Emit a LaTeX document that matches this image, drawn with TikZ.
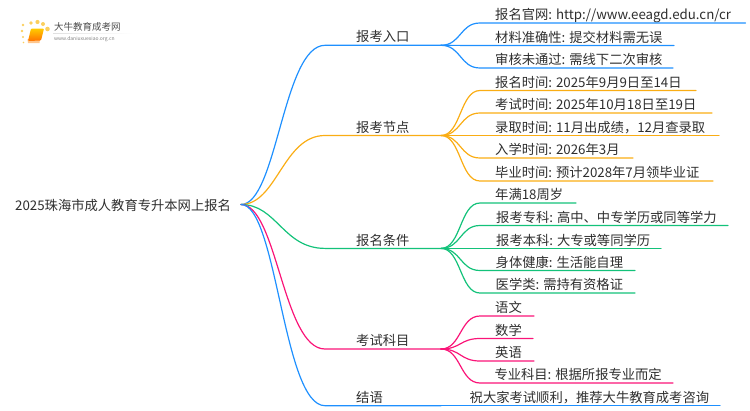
\documentclass[tikz,border=0pt]{standalone}
\usepackage{fontspec}
\setmainfont{Noto Sans CJK SC}
\usetikzlibrary{calc}
\definecolor{mapblue}{HTML}{1E90FF}
\definecolor{maporange}{HTML}{FAAD14}
\definecolor{mapgreen}{HTML}{13C27A}
\definecolor{mappink}{HTML}{FA1478}
\definecolor{logodot}{HTML}{FBCF5E}
\tikzset{
  maptext/.style={anchor=base west, inner sep=0pt, font=\fontsize{13.3}{13.3}\selectfont, text=black!82},
  logotext/.style={anchor=base west, inner sep=0pt},
  branch/.style={line width=1.2pt, line cap=round},
}
\begin{document}
\begin{tikzpicture}[x=1pt, y=-1pt]
  \useasboundingbox (0, 0) rectangle (750, 410);
  \coordinate (root) at (241, 204.5);
  \node[maptext] (title) at (15, 210.6) {2025珠海市成人教育专升本网上报名};
  % logo
  \node[logotext, font=\fontsize{9.5}{9.5}\selectfont, text=black!70] (logoname) at (54, 30.5) {大牛教育成考网};
  \node[logotext, font=\fontsize{5}{5}\selectfont, text=black!50] (logourl) at (54, 40.7) {www.daniuxuexiao.org.cn};
  \shade[left color=black!12, right color=white] (53, 33) rectangle (133, 33.5);
  \fill[orange!45!white] (27.5, 39) -- (40, 39) -- (39.5, 43) -- (28, 43) -- cycle;
  \shade[top color=yellow!60!orange, bottom color=orange!90!red, rounded corners=1pt] (31, 28.5) -- (44, 28.5) -- (41, 40.5) -- (28, 41) -- cycle;
  \foreach \a/\b/\r in {23/25/1.4, 22/31/1.3, 23/37/1.1, 23.5/42.5/0.9, 31/23/1.9, 37.5/22/2.1, 43/24/2, 47.5/29/2.3}{
    \fill[logodot] (\a, \b) circle (\r);
  }
  % first level
  \foreach \name/\txt/\y/\col in {a/报考入口/45.3/mapblue, b/报考节点/135.5/maporange, c/报名条件/248.4/mapgreen, d/考试科目/349/mappink, e/结语/405.7/mapblue}{
    \node[maptext] (\name) at (356, \y - 3.4) {\txt};
    \coordinate (\name-in) at (325, \y);
    \coordinate (\name-out) at (441, \y);
    \draw[branch, \col] (root) .. controls ($(root) + (36, 0)$) and ($(\name-in) + (-42, 0)$) .. (\name-in) -- (\name-out);
  }
  % second level
  \foreach \up/\col/\y/\xtxt/\xend/\txt [count=\i] in {
    a/mapblue/23/495/745.5/{报名官网: http://www.eeagd.edu.cn/cr},
    a/mapblue/45.5/495/674/{材料准确性: 提交材料需无误},
    a/mapblue/68/495/673/{审核未通过: 需线下二次审核},
    b/maporange/90.5/495/696/{报名时间: 2025年9月9日至14日},
    b/maporange/113/495/712/{考试时间: 2025年10月18日至19日},
    b/maporange/135.5/495/719/{录取时间: 11月出成绩，12月查录取},
    b/maporange/158/495/633/{入学时间: 2026年3月},
    b/maporange/181/495/713/{毕业时间: 预计2028年7月领毕业证},
    c/mapgreen/203/495/576/{年满18周岁},
    c/mapgreen/225.5/496/728/{报考专科: 高中、中专学历或同等学力},
    c/mapgreen/248.4/496/661/{报考本科: 大专或等同学历},
    c/mapgreen/270.5/495.5/635/{身体健康: 生活能自理},
    c/mapgreen/293/495.5/635/{医学类: 需持有资格证},
    d/mappink/316/495/534/{语文},
    d/mappink/338.5/495/533/{数学},
    d/mappink/361/495/534/{英语},
    d/mappink/383/494.3/673/{专业科目: 根据所报专业而定},
    e/mapblue/405.7/469.5/720/{祝大家考试顺利，推荐大牛教育成考咨询}}{
    \node[maptext] (item\i) at (\xtxt, \y - 3.4) {\txt};
    \coordinate (item\i-in) at (480, \y);
    \coordinate (item\i-end) at (\xend, \y);
    \draw[branch, \col] (\up-out) .. controls ($(\up-out) + (20, 0)$) and ($(item\i-in) + (-20, 0)$) .. (item\i-in) -- (item\i-end);
  }
\end{tikzpicture}
\end{document}
